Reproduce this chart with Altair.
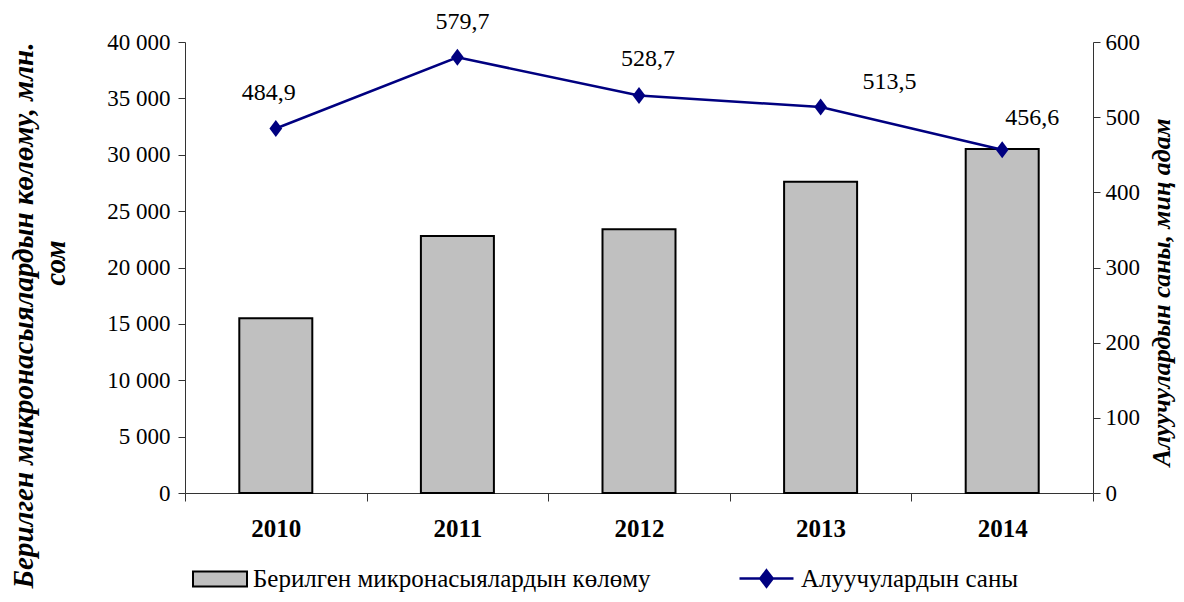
import altair as alt
import pandas as pd

years = ["2010", "2011", "2012", "2013", "2014"]
volume = [15500, 22800, 23400, 27600, 30500]
borrowers = [484.9, 579.7, 528.7, 513.5, 456.6]

bar_name = "Берилген микронасыялардын көлөму"
line_name = "Алуучулардын саны"

df = pd.DataFrame({"year": years, "vol": volume, "v": borrowers})

FONT = "Liberation Serif"
AX = "#333333"
NAVY = "#000080"

x_enc = alt.X(
    "year:N",
    scale=alt.Scale(paddingInner=0, paddingOuter=0),
    axis=alt.Axis(
        title=None, labelAngle=0, tickBand="extent", tickSize=8,
        labelFontWeight="bold", labelPadding=15, labelFontSize=25,
        domainColor=AX, tickColor=AX, labelColor="black", labelFont=FONT,
    ),
)

base = alt.Chart(df)

bars = base.transform_calculate(s=f'"{bar_name}"').mark_bar(
    size=73, stroke="black", strokeWidth=2
).encode(
    y=alt.Y(
        "vol:Q",
        scale=alt.Scale(domain=[0, 40000], nice=False),
        axis=alt.Axis(
            values=list(range(0, 40001, 5000)),
            labelExpr="replace(format(datum.value, ','), ',', ' ')",
            tickSize=7, labelPadding=8, grid=False,
            domainColor=AX, tickColor=AX, labelColor="black",
            labelFont=FONT, labelFontSize=23,
            title=["Берилген микронасыялардын көлөму, млн.",
                   "\u2800" * 5 + "сом"],
            titleFont=FONT, titleFontSize=29, titleFontStyle="italic",
            titleFontWeight="bold", titleLineHeight=32,
            titleX=-147, titleY=273, titleColor="black", titleLimit=1000,
        ),
    ),
    fill=alt.Fill(
        "s:N",
        scale=alt.Scale(domain=[bar_name], range=["#c0c0c0"]),
        legend=alt.Legend(
            title=None, orient="none", legendX=7, legendY=509, padding=0,
            symbolType="M-1,-0.28H1V0.28H-1Z", symbolSize=2916,
            symbolStrokeColor="black", symbolStrokeWidth=2,
            labelOffset=5, labelFont=FONT, labelFontSize=25, labelColor="black",
            labelLimit=1000,
        ),
    ),
)

y_right = alt.Y(
    "v:Q",
    scale=alt.Scale(domain=[0, 600], nice=False),
    axis=alt.Axis(
        values=list(range(0, 601, 100)),
        tickSize=7, labelPadding=5, grid=False,
        domainColor=AX, tickColor=AX, labelColor="black",
        labelFont=FONT, labelFontSize=23,
        title="Алуучулардын саны, миң адам",
        titleFont=FONT, titleFontSize=26, titleFontStyle="italic",
        titleFontWeight="bold", titleAngle=270, titleBaseline="middle",
        titleX=68, titleY=250, titleColor="black", titleLimit=1000,
    ),
)

line = base.transform_calculate(s2=f'"{line_name}"').mark_line(
    strokeWidth=2.5
).encode(
    stroke=alt.Stroke(
        "s2:N",
        scale=alt.Scale(domain=[line_name], range=[NAVY]),
        legend=alt.Legend(
            title=None, orient="none", legendX=553, legendY=508, padding=0,
            symbolType="M-1,0H1M0,-0.3L0.23,0L0,0.3L-0.23,0Z", symbolSize=2916,
            symbolFillColor=NAVY, symbolStrokeWidth=2.5,
            labelOffset=6, labelFont=FONT, labelFontSize=25, labelColor="black",
            labelLimit=1000,
        ),
    ),
)

points = base.mark_point(
    shape="M0,-1L0.75,0L0,1L-0.75,0Z", size=289, filled=True, color=NAVY, opacity=1
).encode()

offsets = {"2010": (-7, -36), "2011": (5, -35), "2012": (9, -37), "2013": (69, -25), "2014": (30, -32)}
label_layers = []
for yr, (dx, dy) in offsets.items():
    label_layers.append(
        base.transform_filter(alt.datum.year == yr)
        .transform_calculate(lbl="replace(format(datum.v, '.1f'), '.', ',')")
        .mark_text(dx=dx, dy=dy, font=FONT, fontSize=24, color="black")
        .encode(text="lbl:N")
    )

right = alt.layer(line, points, *label_layers).encode(y=y_right)

chart = (
    alt.layer(bars, right)
    .encode(x=x_enc)
    .resolve_scale(y="independent", fill="independent", stroke="independent")
    .properties(
        width=908, height=451,
        padding={"left": 177, "top": 34, "right": 83, "bottom": 101},
        autosize=alt.AutoSizeParams(type="none"),
    )
    .configure_view(stroke=None)
)

chart.save("out.html", embed_options={"renderer": "svg", "actions": False})
